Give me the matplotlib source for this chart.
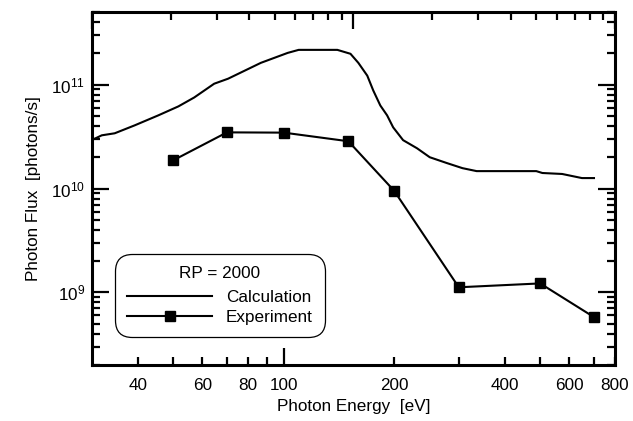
import numpy as np
import matplotlib
matplotlib.use('Agg')
import matplotlib.pyplot as plt
from matplotlib.ticker import NullFormatter, LogLocator

plt.rcParams['font.family'] = ['Liberation Sans', 'DejaVu Sans']

# calculated flux curve
calc_energy = [30.3, 31.9, 34.6, 39.2, 45.5, 51.6, 57.0, 64.6, 70.5, 86.6, 102.5,
               109.8, 140, 152, 159.7, 168.9, 175.4, 183.3, 191.3, 198.7, 211.5,
               230.8, 250, 278, 307, 335.6, 488, 507, 574, 650, 701]
calc_flux = [2.98e10, 3.25e10, 3.40e10, 4.05e10, 5.06e10, 6.17e10, 7.52e10, 1.02e11,
             1.14e11, 1.62e11, 2.02e11, 2.16e11, 2.16e11, 1.98e11, 1.62e11, 1.22e11,
             8.77e10, 6.3e10, 5.06e10, 3.88e10, 2.92e10, 2.44e10, 2.0e10, 1.76e10,
             1.57e10, 1.47e10, 1.47e10, 1.41e10, 1.38e10, 1.26e10, 1.26e10]

# measured flux
exp_energy = [50, 70, 100, 150, 200, 300, 500, 700]
exp_flux = [1.87e10, 3.47e10, 3.45e10, 2.85e10, 9.5e9, 1.12e9, 1.22e9, 5.8e8]

xtick_minor = [40, 50, 60, 70, 80, 90, 200, 300, 400, 500, 600, 700, 800]
xtick_minor_labels = ['40', '', '60', '', '80', '', '200', '', '400', '', '600', '', '800']

fs = 12.3

fig = plt.figure(figsize=(6.33, 4.21), dpi=100)
ax = fig.add_axes([0.1453, 0.133, 0.8263, 0.8385])

ax.plot(calc_energy, calc_flux, color='black', lw=1.5, label='Calculation')
ax.plot(exp_energy, exp_flux, color='black', lw=1.5, marker='s', markersize=7.5,
        label='Experiment')

ax.set_xscale('log')
ax.set_yscale('log')
ax.set_xlim(30, 800)
ax.set_ylim(2e8, 5e11)

ax.set_xticks([100], ['100'])
ax.set_xticks(xtick_minor, xtick_minor_labels, minor=True)
ax.yaxis.set_major_locator(LogLocator(base=10, numticks=10))
ax.yaxis.set_minor_locator(LogLocator(base=10, subs=np.arange(2, 10), numticks=20))
ax.yaxis.set_minor_formatter(NullFormatter())

ax.tick_params(which='both', direction='in', top=False, right=True, width=1.6,
               labelsize=fs, pad=9)
ax.tick_params(which='major', length=12)
ax.tick_params(which='minor', length=6)
ax.tick_params(axis='y', which='both', pad=5)

for s in ax.spines.values():
    s.set_linewidth(2.2)

# top axis: separate log scale, ticks only
top = ax.twiny()
top.set_xscale('log')
top.set_xlim(0.1, 10)
top.xaxis.set_major_locator(LogLocator(base=10, numticks=10))
top.xaxis.set_minor_locator(LogLocator(base=10, subs=np.arange(2, 10), numticks=20))
top.xaxis.set_major_formatter(NullFormatter())
top.xaxis.set_minor_formatter(NullFormatter())
top.tick_params(which='both', direction='in', width=1.6)
top.tick_params(which='major', length=12)
top.tick_params(which='minor', length=6)
for s in top.spines.values():
    s.set_visible(False)

ax.set_xlabel('Photon Energy  [eV]', fontsize=fs, labelpad=5)
ax.set_ylabel('Photon Flux  [photons/s]', fontsize=fs, labelpad=7)

leg = ax.legend(title='RP = 2000', loc='lower left', bbox_to_anchor=(0.044, 0.08),
                borderaxespad=0, fontsize=fs, title_fontsize=fs, handlelength=5.0,
                handletextpad=0.8, labelspacing=0.3, borderpad=0.7, frameon=True,
                fancybox=True, framealpha=1, edgecolor='black')
leg.get_frame().set_boxstyle('round', pad=0, rounding_size=1.0)
leg.get_frame().set_linewidth(0.9)
leg._legend_box.sep = 6

fig.savefig('out.png', dpi=100)
